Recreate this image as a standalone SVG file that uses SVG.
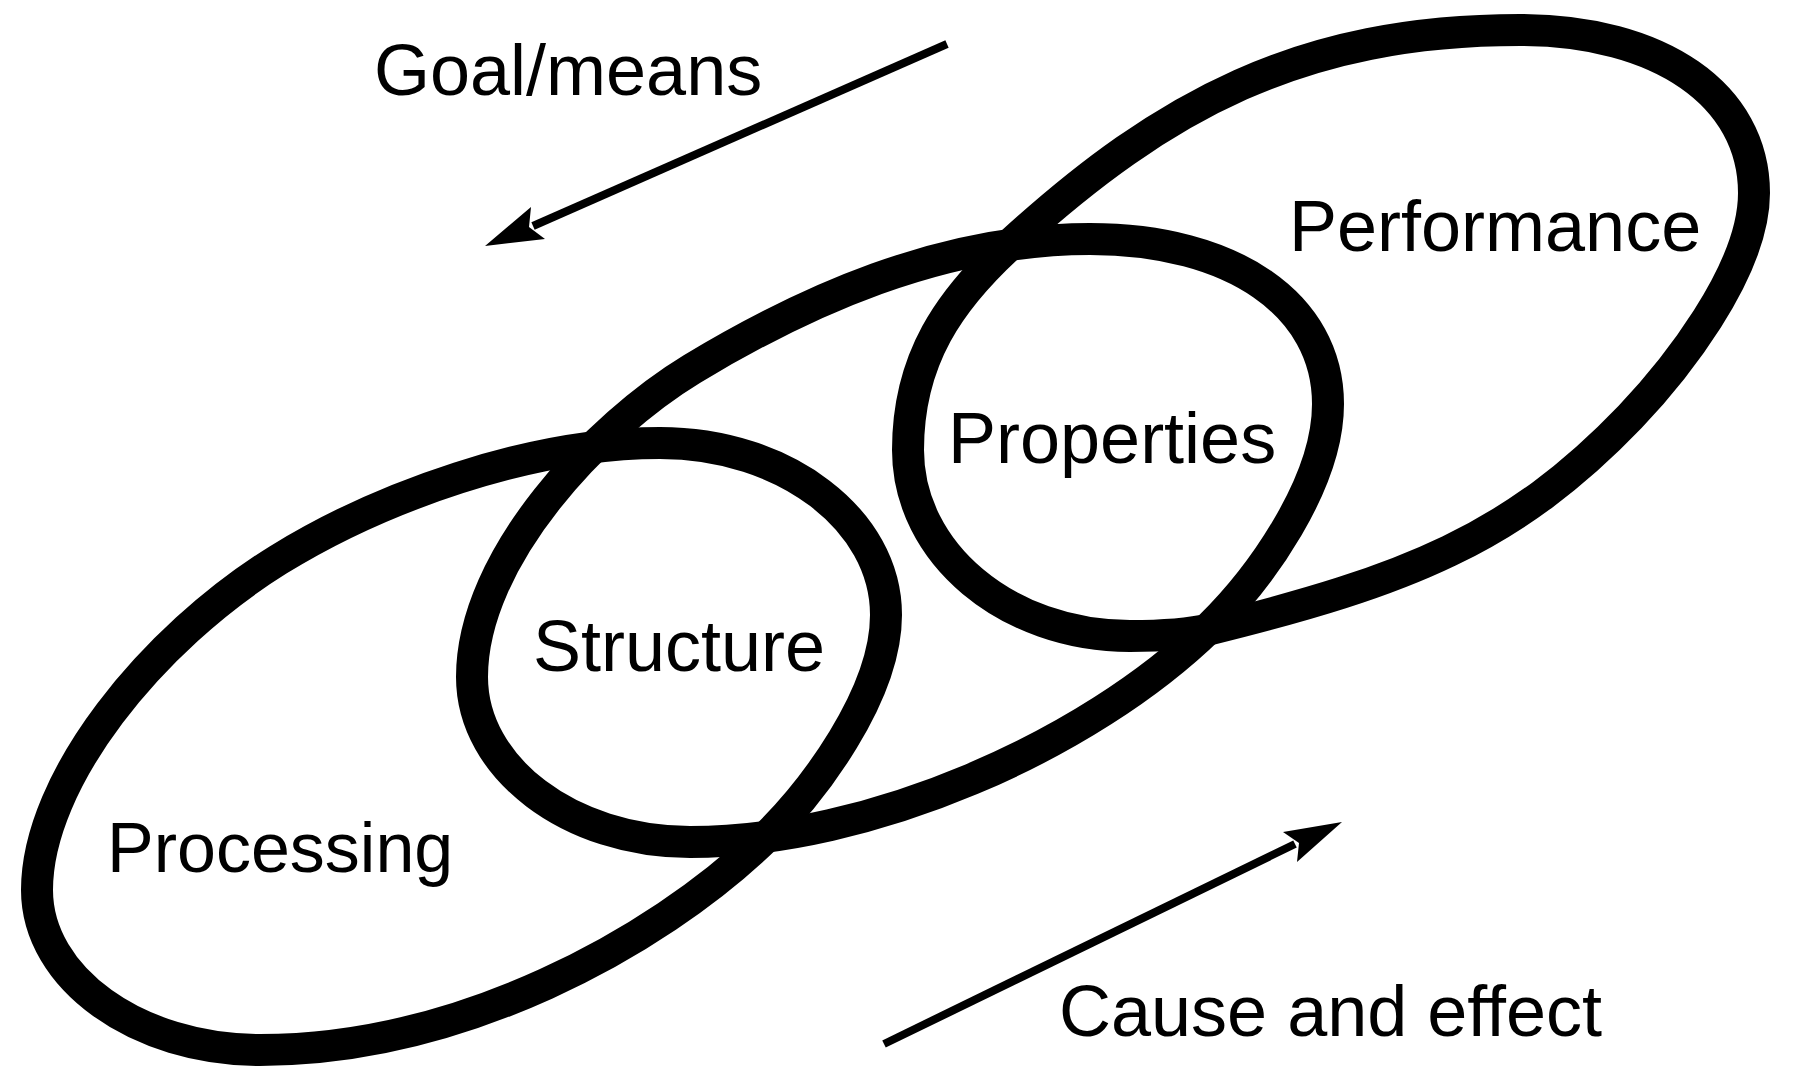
<svg xmlns="http://www.w3.org/2000/svg" width="1800" height="1077" viewBox="0 0 1800 1077">
<style>
.loop{fill:none;stroke:#000;stroke-width:32;stroke-linejoin:round}
.arrow{fill:none;stroke:#000;stroke-width:8;stroke-linecap:butt}
.head{fill:#000;stroke:none}
.lbl{font-family:"Liberation Sans",Arial,Helvetica,sans-serif;font-size:72px;fill:#000}
</style>
<rect width="1800" height="1077" fill="#fff"/>
<g id="loops">
<path id="loop-processing" class="loop" d="M 37 890 C 37 978 137 1050 260 1050 C 460 1050 655 943.5 763 840 C 813 792 886 695 886 615 C 886 520 785 443 660 443 C 530 443 380 497 278 560 C 151 639 37 780 37 890 Z"/>
<path id="loop-middle" class="loop" d="M 472 677 C 472 768 570 842 690 842 C 870 842 1088 746 1210 627 C 1260 578 1328 484 1328 404 C 1328 305 1233 239 1090 239 C 940 239 803 302 692 369 C 598 426 472 557 472 677 Z"/>
<path id="loop-performance" class="loop" d="M 908 450 C 908 360 948 300 1015 240 C 1163 106 1300 30 1520 30 C 1660 30 1754 95 1754 193 C 1754 273 1671 374 1630 417 C 1512.7 539.4 1405 581 1211 629 C 1190 634 1155 636 1130 636 C 1007 636 908 553 908 450 Z"/>
</g>
<g id="connectors">
<g id="arrow-goal-means">
<line class="arrow" x1="947" y1="44" x2="533" y2="226"/>
<polygon class="head" points="485,246 531,207 529,227 545,239"/>
</g>
<g id="arrow-cause-effect">
<line class="arrow" x1="884" y1="1044" x2="1295" y2="844"/>
<polygon class="head" points="1342,822 1297,862 1299,843 1283,832"/>
</g>
</g>
<g id="label-goal-means"><text class="lbl" x="374" y="95">Goal/means</text></g>
<g id="label-performance"><text class="lbl" x="1289" y="251">Performance</text></g>
<g id="label-properties"><text class="lbl" x="948" y="463">Properties</text></g>
<g id="label-structure"><text class="lbl" x="533" y="671">Structure</text></g>
<g id="label-processing"><text class="lbl" x="107" y="872" style="font-size:70px">Processing</text></g>
<g id="label-cause-effect"><text class="lbl" x="1059" y="1036">Cause and effect</text></g>
</svg>
